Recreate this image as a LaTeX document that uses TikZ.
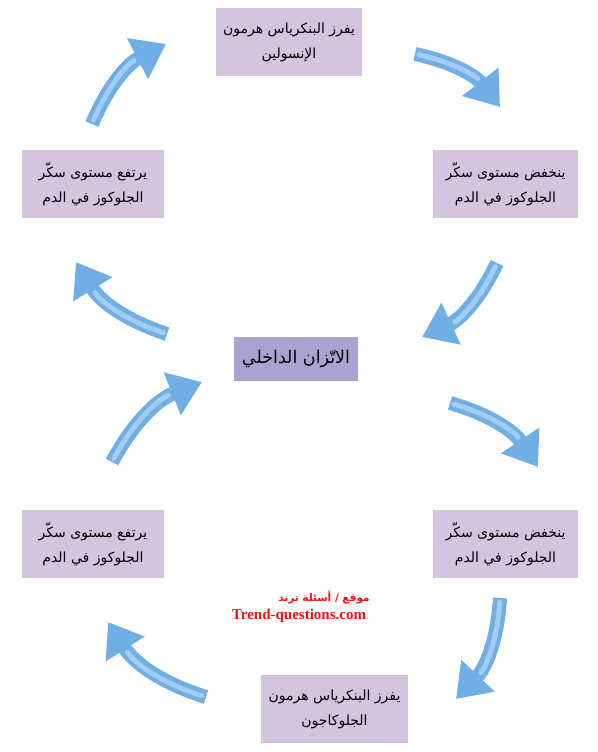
\documentclass[tikz,border=0pt]{standalone}
\usepackage{fontspec}
\setmainfont{Liberation Serif}
\newfontfamily\arabicfont[Script=Arabic]{DejaVu Sans}
\TeXXeTstate=1
\usetikzlibrary{arrows.meta}
\definecolor{boxfill}{RGB}{212,196,222}
\definecolor{centerfill}{RGB}{168,163,208}
\definecolor{arrowblue}{RGB}{112,174,228}
\definecolor{arrowlight}{RGB}{160,205,240}
\definecolor{markred}{RGB}{235,20,20}
\newcommand\artext[1]{\beginR #1\endR}
\begin{document}
\begin{tikzpicture}[x=1pt,y=-1pt,
  box/.style={fill=boxfill, minimum width=144pt, minimum height=68pt, inner sep=0pt,
    align=center, text=black, font=\arabicfont\fontsize{14}{25}\selectfont},
  centerbox/.style={fill=centerfill, minimum width=124pt, minimum height=44pt, inner sep=0pt,
    align=center, text=black, font=\arabicfont\fontsize{17.5}{20}\selectfont},
  flow/.style={draw=arrowblue, line width=14pt, line cap=butt,
    -{Triangle[length=32pt,width=44pt]}, bend left=20},
  shine/.style={draw=arrowlight, line width=5pt, line cap=round, bend left=20, shorten >=36pt, shorten <=4pt},
  wmark/.style={text=markred, inner sep=0pt}]
\useasboundingbox[fill=white] (0,0) rectangle (597,752);

% boxes
\node[box, minimum width=146pt] (top) at (289,42) {\artext{يفرز البنكرياس هرمون}\\\artext{الإنسولين}};
\node[box, minimum width=145pt] (ru) at (505.5,184) {\artext{ينخفض مستوى سكّر}\\\artext{الجلوكوز في الدم}};
\node[box, minimum width=142pt] (lu) at (93,184) {\artext{يرتفع مستوى سكّر}\\\artext{الجلوكوز في الدم}};
\node[centerbox] (mid) at (296,359) {\artext{الاتّزان الداخلي}};
\node[box, minimum width=145pt] (rl) at (505.5,544) {\artext{ينخفض مستوى سكّر}\\\artext{الجلوكوز في الدم}};
\node[box, minimum width=142pt] (ll) at (93,544) {\artext{يرتفع مستوى سكّر}\\\artext{الجلوكوز في الدم}};
\node[box, minimum width=147pt] (bot) at (334.5,709) {\artext{يفرز البنكرياس هرمون}\\\artext{الجلوكاجون}};

% watermark
\node[wmark, font=\arabicfont\bfseries\fontsize{10.5}{12}\selectfont] (wm1) at (324,598) {\artext{موقع / أسئلة ترند}};
\node[wmark, font=\bfseries\fontsize{15}{17}\selectfont] (wm2) at (299,616) {Trend-questions.com};

% arrow end points
\coordinate (a1s) at (92,124);  \coordinate (a1e) at (166,44);
\coordinate (a2s) at (415,54);  \coordinate (a2e) at (500,107);
\coordinate (a3s) at (497,263); \coordinate (a3e) at (422,337);
\coordinate (a4s) at (167,334); \coordinate (a4e) at (76,262);
\coordinate (a5s) at (112,462); \coordinate (a5e) at (202,382);
\coordinate (a6s) at (450,403); \coordinate (a6e) at (538,467);
\coordinate (a7s) at (500,598); \coordinate (a7e) at (456,699);
\coordinate (a8s) at (206,697); \coordinate (a8e) at (108,622);

\foreach \i in {1,...,8}{
  \draw[flow] (a\i s) to (a\i e);
  \draw[shine] (a\i s) to (a\i e);
}
\end{tikzpicture}
\end{document}
